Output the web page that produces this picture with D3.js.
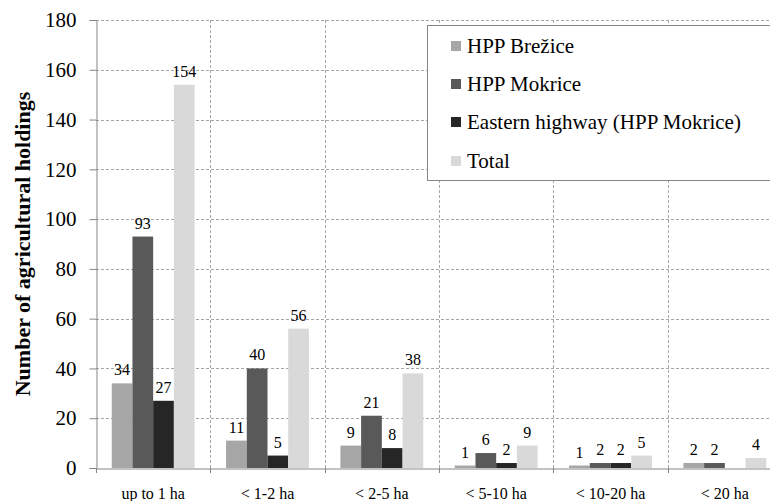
<!DOCTYPE html>
<html>
<head>
<meta charset="utf-8">
<script src="https://cdn.jsdelivr.net/npm/d3@7"></script>
<style>
  html, body { margin: 0; padding: 0; background: #fff; overflow: hidden; }
</style>
</head>
<body>
<svg id="chart" width="770" height="501"></svg>
<script>
const categories = ["up to 1 ha", "< 1-2 ha", "< 2-5 ha", "< 5-10 ha", "< 10-20 ha", "< 20 ha"];
const seriesNames = ["HPP Brežice", "HPP Mokrice", "Eastern highway (HPP Mokrice)", "Total"];
const brezice = [34, 11, 9, 1, 1, 2];
const mokrice = [93, 40, 21, 6, 2, 2];
const eastern = [27, 5, 8, 2, 2, 0];
const total = [154, 56, 38, 9, 5, 4];
const yTicks = [0, 20, 40, 60, 80, 100, 120, 140, 160, 180];
const colors = ["#a6a6a6", "#595959", "#262626", "#d9d9d9"];

const seriesValues = [brezice, mokrice, eastern, total];
const FONT = "Liberation Serif";
const BIG = 28, SC = 0.75; // render large text at 28px scaled to 21px

const svg = d3.select("#chart");
const mLeft = 96, mRight = 782, mTop = 20, mBottom = 468;

const x = d3.scaleBand().domain(categories).range([mLeft, mRight]).paddingInner(0).paddingOuter(0);
const xs = d3.scaleBand().domain(d3.range(4)).range([0, x.bandwidth()]).paddingInner(0).paddingOuter(0.76);
const y = d3.scaleLinear().domain([0, 180]).range([mBottom, mTop]);

// horizontal gridlines
svg.append("g").selectAll("line").data(yTicks.filter(d => d > 0)).join("line")
  .attr("x1", mLeft).attr("x2", 770)
  .attr("y1", d => Math.round(y(d)) + 0.5).attr("y2", d => Math.round(y(d)) + 0.5)
  .attr("stroke", "#a6a6a6").attr("stroke-width", 1).attr("stroke-dasharray", "3,2");

// vertical gridlines at category boundaries
const bounds = categories.slice(1).map(c => x(c));
svg.append("g").selectAll("line").data(bounds).join("line")
  .attr("x1", d => Math.round(d) + 0.5).attr("x2", d => Math.round(d) + 0.5)
  .attr("y1", mTop).attr("y2", mBottom)
  .attr("stroke", "#a6a6a6").attr("stroke-width", 1).attr("stroke-dasharray", "3,2");

// bars
const groups = svg.append("g").selectAll("g").data(categories).join("g")
  .attr("transform", d => `translate(${x(d)},0)`);
groups.each(function(cat, ci) {
  const g = d3.select(this);
  seriesValues.forEach((vals, si) => {
    const v = vals[ci];
    if (v > 0) {
      g.append("rect")
        .attr("x", xs(si)).attr("width", xs.bandwidth())
        .attr("y", y(v)).attr("height", y(0) - y(v))
        .attr("fill", colors[si]);
      g.append("text")
        .attr("x", xs(si) + xs.bandwidth() / 2)
        .attr("y", y(v) - 8)
        .attr("text-anchor", "middle")
        .style("font-family", FONT).style("font-size", "16px")
        .attr("fill", "#000")
        .text(v);
    }
  });
});

// y axis
const yAxis = d3.axisLeft(y).tickValues(yTicks).tickSize(7).tickPadding(13).tickFormat(d3.format("d"));
const yg = svg.append("g").attr("transform", `translate(${mLeft + 0.5},0)`).call(yAxis);
yg.select(".domain").attr("stroke", "#868686");
yg.selectAll(".tick line").attr("stroke", "#868686");
yg.selectAll(".tick text").attr("fill", "#000")
  .attr("x", -20 / SC)
  .attr("transform", `scale(${SC})`)
  .style("font-family", FONT).style("font-size", BIG + "px");

// x axis
const xAxis = d3.axisBottom(x).tickSize(0).tickPadding(0);
const xg = svg.append("g").attr("transform", `translate(0,${mBottom + 0.5})`).call(xAxis);
xg.select(".domain").attr("stroke", "#868686");
xg.selectAll(".tick text").attr("fill", "#000")
  .attr("dy", null).attr("y", 30)
  .style("font-family", FONT).style("font-size", "16px");
// category boundary tick marks
svg.append("g").selectAll("line").data([mLeft].concat(bounds)).join("line")
  .attr("x1", d => Math.round(d) + 0.5).attr("x2", d => Math.round(d) + 0.5)
  .attr("y1", mBottom).attr("y2", mBottom + 5)
  .attr("stroke", "#868686");

// y title
svg.append("text")
  .attr("transform", `translate(30,${(88 + 400) / 2}) rotate(-90)`)
  .attr("text-anchor", "middle")
  .style("font-family", FONT).style("font-size", "22px").style("font-weight", "bold")
  .text("Number of agricultural holdings");

// legend
const lg = svg.append("g");
lg.append("rect").attr("x", 427.5).attr("y", 25.5).attr("width", 360).attr("height", 155)
  .attr("fill", "#fff").attr("stroke", "#868686");
const rowY = [46, 84, 122, 161];
seriesNames.forEach((name, i) => {
  lg.append("rect").attr("x", 451).attr("y", rowY[i] - 5).attr("width", 10).attr("height", 10)
    .attr("fill", colors[i]);
  lg.append("text")
    .attr("transform", `translate(467,${rowY[i] + 7}) scale(${SC})`)
    .style("font-family", FONT).style("font-size", BIG + "px")
    .attr("fill", "#000").text(name);
});
</script>
</body>
</html>
